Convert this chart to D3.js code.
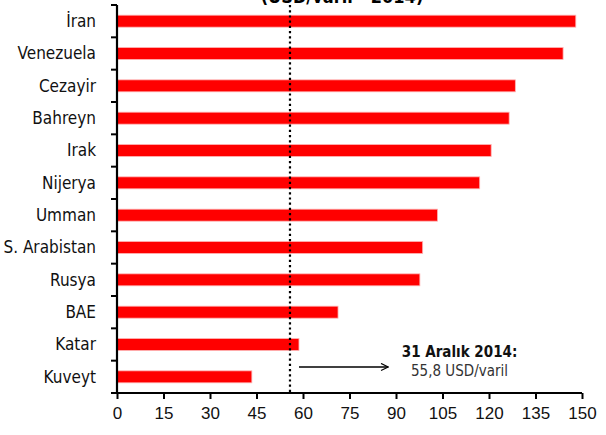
<!DOCTYPE html>
<html>
<head>
<meta charset="utf-8">
<script src="https://cdn.jsdelivr.net/npm/d3@7"></script>
<style>
  body { margin: 0; background: #fff; }
  svg { display: block; font-family: "DejaVu Sans Condensed", "DejaVu Sans", sans-serif; font-stretch: condensed; }
</style>
</head>
<body>
<div id="chart"></div>
<script>
// data
var countries = ["İran", "Venezuela", "Cezayir", "Bahreyn", "Irak", "Nijerya", "Umman",
    "S. Arabistan", "Rusya", "BAE", "Katar", "Kuveyt"];
var breakEven = [148, 143.9, 128.5, 126.5, 120.7, 117, 103.4, 98.6, 97.7, 71.3, 58.7, 43.5];
var xTicks = [0, 15, 30, 45, 60, 75, 90, 105, 120, 135, 150];
var brentPrice = 55.8;
var noteTitle = "31 Aralık 2014:";
var noteText = "55,8 USD/varil";
var titleText = "(USD/varil - 2014)";

var svgWidth = 606;
var svgHeight = 435;
var margin = { top: 5, right: 24, bottom: 42, left: 117 };
var width = svgWidth - margin.left - margin.right;
var height = svgHeight - margin.top - margin.bottom;

var svg = d3.select("#chart")
    .append("svg")
    .attr("width", svgWidth)
    .attr("height", svgHeight);

// title is cut off at the top of the picture
svg.append("text")
    .attr("x", 342)
    .attr("y", 3)
    .attr("text-anchor", "middle")
    .attr("font-weight", "bold")
    .attr("font-size", "18px")
    .text(titleText);

var chartGroup = svg.append("g")
    .attr("transform", `translate(${margin.left}, ${margin.top})`);

var xScale = d3.scaleLinear()
    .domain([0, 150])
    .range([0, width]);

var yScale = d3.scaleBand()
    .domain(countries)
    .range([0, height])
    .paddingInner(0.63)
    .paddingOuter(0.315);

// bars
chartGroup.selectAll("rect.bar")
    .data(countries)
    .enter()
    .append("rect")
    .attr("class", "bar")
    .attr("x", 0)
    .attr("y", d => yScale(d))
    .attr("width", (d, i) => xScale(breakEven[i]))
    .attr("height", yScale.bandwidth())
    .attr("fill", "#ff0000")
    .attr("stroke", "#ffb3b3")
    .attr("stroke-width", 0.8);

// dotted line at the oil price
chartGroup.append("line")
    .attr("x1", xScale(brentPrice))
    .attr("x2", xScale(brentPrice))
    .attr("y1", 0)
    .attr("y2", height)
    .attr("stroke", "#000")
    .attr("stroke-width", 2.2)
    .attr("stroke-dasharray", "2.2,3");

// x axis
var xAxis = d3.axisBottom(xScale)
    .tickValues(xTicks)
    .tickSize(6)
    .tickPadding(8);

var xg = chartGroup.append("g")
    .attr("transform", `translate(0, ${height})`)
    .call(xAxis);
xg.select(".domain").attr("stroke-width", 2.2).attr("d", `M0,0H${width}`);
xg.selectAll(".tick line").attr("stroke-width", 2);
xg.selectAll(".tick text")
    .attr("font-size", "17px")
    .attr("font-family", null)
    .attr("fill", "#111");

// y axis: ticks sit between the categories
chartGroup.append("line")
    .attr("x1", 0).attr("x2", 0)
    .attr("y1", 0).attr("y2", height)
    .attr("stroke", "#000")
    .attr("stroke-width", 2.2);

var step = yScale.step();
chartGroup.append("g")
    .selectAll("line")
    .data(d3.range(countries.length + 1))
    .enter()
    .append("line")
    .attr("x1", -6)
    .attr("x2", 0)
    .attr("y1", i => i * step)
    .attr("y2", i => i * step)
    .attr("stroke", "#000")
    .attr("stroke-width", 2);

chartGroup.append("g")
    .selectAll("text")
    .data(countries)
    .enter()
    .append("text")
    .attr("x", -21)
    .attr("y", d => yScale(d) + yScale.bandwidth() / 2)
    .attr("dy", "0.35em")
    .attr("text-anchor", "end")
    .attr("font-size", "17px")
    .attr("fill", "#111")
    .text(d => d);

// annotation
svg.append("defs").append("marker")
    .attr("id", "arrow")
    .attr("viewBox", "0 0 10 10")
    .attr("refX", 9)
    .attr("refY", 5)
    .attr("markerWidth", 9)
    .attr("markerHeight", 9)
    .attr("markerUnits", "userSpaceOnUse")
    .attr("orient", "auto")
    .append("path")
    .attr("d", "M1,1L9,5L1,9")
    .attr("fill", "none")
    .attr("stroke", "#000")
    .attr("stroke-width", 1.3);

chartGroup.append("line")
    .attr("x1", xScale(brentPrice) + 9)
    .attr("x2", xScale(87.5))
    .attr("y1", 362)
    .attr("y2", 362)
    .attr("stroke", "#000")
    .attr("stroke-width", 1.3)
    .attr("marker-end", "url(#arrow)");

chartGroup.append("text")
    .attr("x", xScale(110.5))
    .attr("y", 352)
    .attr("text-anchor", "middle")
    .attr("font-weight", "bold")
    .attr("font-size", "15px")
    .attr("fill", "#111")
    .text(noteTitle);

chartGroup.append("text")
    .attr("x", xScale(110.5))
    .attr("y", 371)
    .attr("text-anchor", "middle")
    .attr("font-size", "15px")
    .attr("fill", "#333")
    .text(noteText);
</script>
</body>
</html>
